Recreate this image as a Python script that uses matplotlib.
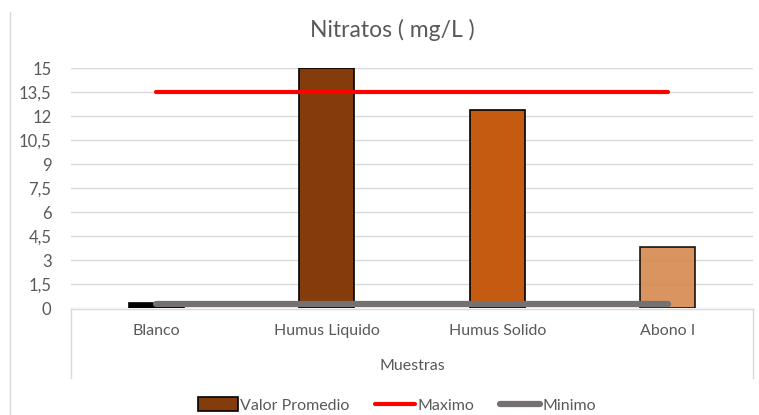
import matplotlib.pyplot as plt
from matplotlib.lines import Line2D
from matplotlib.patches import Patch

muestras = ["Blanco", "Humus Liquido", "Humus Solido", "Abono I"]
valor_promedio = [0.3, 15.0, 12.4, 3.83]
maximo = [13.5, 13.5, 13.5, 13.5]
minimo = [0.25, 0.25, 0.25, 0.25]
yticks = [0, 1.5, 3, 4.5, 6, 7.5, 9, 10.5, 12, 13.5, 15]
ytick_labels = ["0", "1,5", "3", "4,5", "6", "7,5", "9", "10,5", "12", "13,5", "15"]

bar_colors = ["#000000", "#843C0C", "#C55A11", "#D6884F"]
bar_alpha = [1, 1, 1, 0.9]
text_gray = "#595959"
W, H = 759, 415

plt.rcParams['font.family'] = ['Lato', 'DejaVu Sans']

fig = plt.figure(figsize=(W / 100, H / 100), dpi=100)
ax = fig.add_axes([71 / W, 1 - 308 / H, (753 - 71) / W, (308 - 68) / H])

x = list(range(len(muestras)))
for i in x:
    ax.bar(i, valor_promedio[i], width=0.32, color=bar_colors[i],
           alpha=bar_alpha[i], edgecolor="black", linewidth=1.2, zorder=2)

ax.plot(x, maximo, color="#FF0000", linewidth=3, solid_capstyle="round", zorder=3)
ax.plot(x, minimo, color="#767171", linewidth=4.5, solid_capstyle="round", zorder=3)

ax.set_xlim(-0.5, 3.5)
ax.set_ylim(0, 15)
ax.set_yticks(yticks)
ax.set_yticklabels(ytick_labels)
ax.set_xticks([])
ax.grid(axis="y", color="#D9D9D9", linewidth=1, zorder=0)
ax.set_axisbelow(True)
for s in ax.spines.values():
    s.set_visible(False)
ax.tick_params(axis="y", length=0, pad=14, labelsize=12, labelcolor=text_gray)

# category labels and the box under the plot
for i, name in enumerate(muestras):
    xf = (71 + (i + 0.5) * (753 - 71) / 4) / W
    fig.text(xf, 1 - 331 / H, name, ha="center", va="center", fontsize=11.5, color=text_gray)
fig.text((71 + 753) / 2 / W, 1 - 366 / H, "Muestras", ha="center", va="center",
         fontsize=11.5, color=text_gray)
box = dict(color="#D9D9D9", linewidth=1, transform=fig.transFigure)
fig.add_artist(Line2D([71 / W, 753 / W], [1 - 309 / H, 1 - 309 / H], **box))
fig.add_artist(Line2D([71 / W, 71 / W], [1 - 309 / H, 1 - 378 / H], **box))
fig.add_artist(Line2D([753 / W, 753 / W], [1 - 309 / H, 1 - 378 / H], **box))
fig.add_artist(Line2D([10 / W, 10 / W], [1 - 12 / H, 0], **box))

fig.text(392 / W, 1 - 30 / H, "Nitratos ( mg/L )", ha="center", va="center",
         fontsize=16.5, color=text_gray)

handles = [
    Patch(facecolor="#843C0C", edgecolor="black", linewidth=1.2),
    Line2D([0], [0], color="#FF0000", linewidth=3, solid_capstyle="round"),
    Line2D([0], [0], color="#767171", linewidth=4.5, solid_capstyle="round"),
]
fig.legend(handles, ["Valor Promedio", "Maximo", "Minimo"], loc="center",
           bbox_to_anchor=(397 / W, 1 - 405 / H), ncol=3, frameon=False,
           fontsize=11.5, labelcolor=text_gray, handlelength=2.5,
           handletextpad=0.15, columnspacing=1.6, handleheight=0.9)

fig.savefig("out.png", dpi=100)
